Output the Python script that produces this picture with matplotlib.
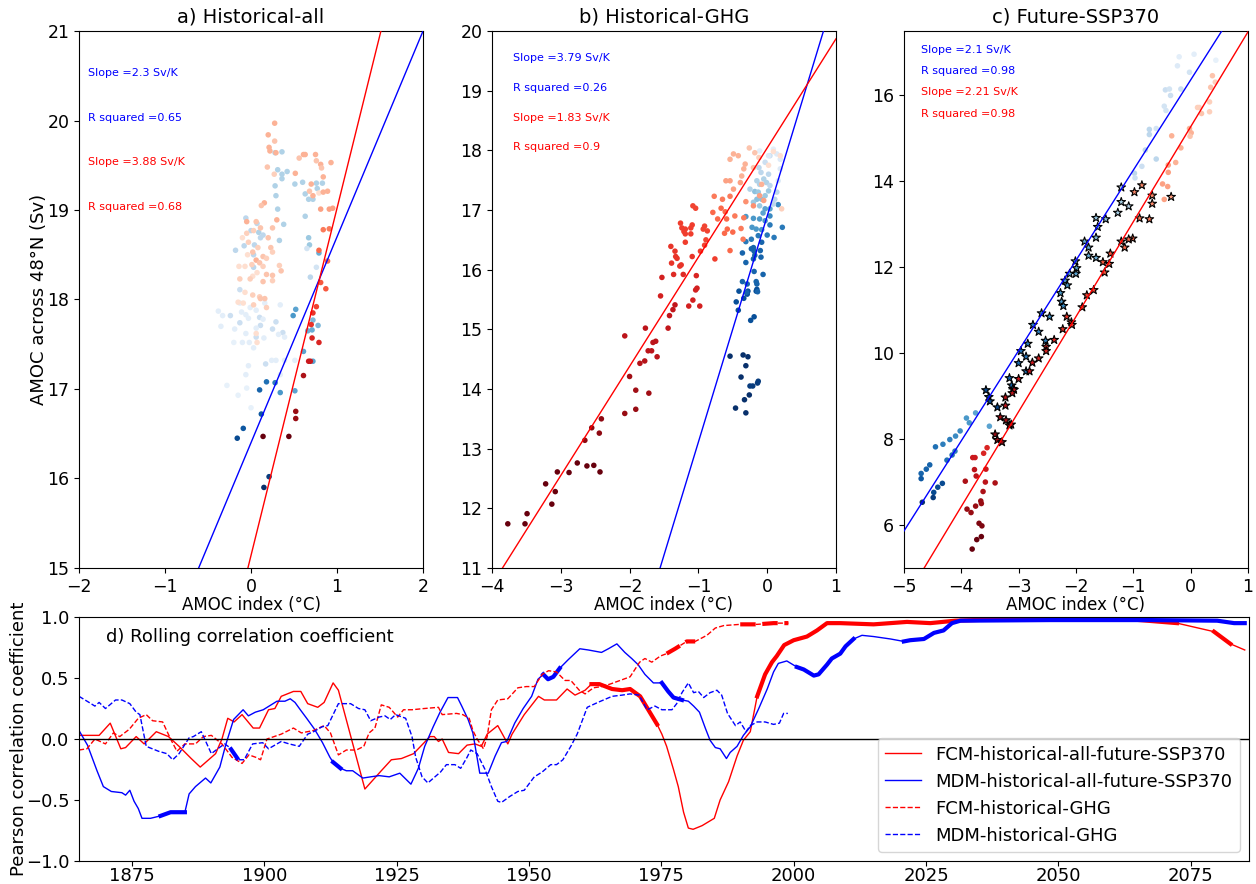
import numpy as np
import matplotlib
matplotlib.use("Agg")
import matplotlib.pyplot as plt

# ---------------- scatter data (x = AMOC index, y = AMOC 48N, shade = time) ----------------
a_mdm = [(0.28, 19.64, .32), (0.36, 19.65, .32), (0.36, 19.35, .32), (0.31, 19.45, .32), (0.36, 19.40, .32),
         (0.42, 19.43, .32), (0.28, 19.27, .32), (0.29, 19.16, .32), (0.31, 19.01, .32), (0.38, 18.84, .32),
         (0.33, 18.66, .32), (-0.06, 18.91, .28), (0.00, 18.77, .28), (0.07, 18.85, .28), (0.09, 18.75, .32),
         (0.11, 18.69, .28), (0.14, 18.72, .28), (-0.18, 18.55, .28), (-0.08, 18.60, .28), (0.03, 18.36, .28),
         (0.04, 18.61, .28), (0.03, 18.50, .28), (-0.13, 18.11, .22), (0.51, 19.29, .32), (0.60, 19.31, .32),
         (0.63, 19.18, .32), (0.67, 19.12, .32), (0.72, 19.12, .32), (0.76, 19.30, .32), (0.83, 19.30, .32),
         (0.77, 19.24, .32), (0.63, 18.93, .32), (0.67, 18.69, .38), (0.68, 18.61, .38), (0.65, 18.57, .18),
         (0.79, 18.52, .5), (0.76, 18.36, .18), (0.69, 18.25, .28),
         (-0.24, 17.82, .22), (-0.38, 17.87, .1), (-0.33, 17.82, .1), (-0.35, 17.70, .1), (-0.13, 17.74, .22),
         (-0.11, 17.86, .1), (-0.06, 17.83, .1), (-0.01, 17.91, .1), (0.06, 17.88, .1), (0.10, 17.80, .22),
         (0.11, 17.71, .22), (0.06, 17.68, .1), (0.14, 17.78, .1), (-0.03, 17.79, .1), (0.25, 17.67, .22),
         (0.29, 17.75, .22), (0.37, 17.63, .22), (0.39, 17.58, .1), (0.32, 17.61, .1), (0.15, 17.57, .1),
         (0.06, 17.58, .22), (-0.02, 17.52, .1), (0.03, 17.46, .1), (-0.06, 17.62, .1), (-0.19, 17.67, .1),
         (-0.10, 17.52, .1), (0.34, 17.16, .1), (0.39, 17.32, .1), (0.29, 17.32, .1), (0.24, 17.32, .1),
         (0.51, 17.32, .1), (0.17, 17.28, .22), (-0.03, 17.26, .1), (-0.06, 17.16, .1), (-0.20, 17.52, .08),
         (-0.28, 17.04, .08), (-0.05, 17.01, .08), (0.00, 16.79, .08), (-0.15, 16.93, .08), (0.34, 17.94, .1),
         (0.16, 17.96, .1), (-0.13, 17.96, .1),
         (0.49, 17.82, .6), (0.52, 17.89, .55), (0.66, 17.65, .5), (0.71, 17.66, .5), (0.72, 17.77, .45),
         (0.78, 17.71, .45), (0.61, 17.42, .55), (0.72, 17.31, .55), (0.51, 16.98, .55), (0.34, 16.96, .6),
         (0.28, 17.07, .7), (0.18, 17.08, .75), (0.10, 16.99, .8), (0.12, 16.72, .85), (-0.09, 16.56, .85),
         (-0.16, 16.45, .9), (0.21, 16.02, .95), (0.15, 15.90, 1.0)]

a_fcm = [(0.275, 19.97, .28), (0.20, 19.84, .28), (0.21, 19.70, .28), (0.22, 19.66, .28), (0.275, 19.77, .22),
         (0.29, 19.64, .28), (0.19, 19.48, .22), (0.27, 19.40, .18), (0.155, 19.08, .28), (0.12, 19.05, .22),
         (0.06, 18.87, .22), (-0.05, 18.87, .28), (0.30, 18.89, .28), (0.25, 18.80, .22), (0.11, 18.80, .22),
         (0.03, 18.77, .18), (-0.05, 18.74, .18), (-0.10, 18.69, .13), (-0.03, 18.64, .18), (0.20, 18.69, .22),
         (0.23, 18.58, .22), (0.25, 18.53, .18), (0.08, 18.58, .18), (0.02, 18.53, .22), (-0.04, 18.50, .13),
         (0.14, 18.48, .22), (0.18, 18.46, .18), (0.06, 18.44, .28), (0.10, 18.41, .22), (0.01, 18.39, .18),
         (0.14, 18.37, .18), (0.18, 18.28, .22), (0.25, 18.27, .22), (0.35, 18.32, .22), (0.33, 18.38, .18),
         (-0.07, 18.37, .13), (0.02, 18.26, .13), (0.14, 18.20, .22), (0.25, 18.21, .18), (-0.14, 18.37, .13),
         (-0.13, 18.23, .18), (-0.01, 18.23, .18), (0.07, 18.30, .13), (-0.07, 18.08, .13), (0.02, 18.05, .18),
         (0.10, 18.03, .18),
         (0.515, 19.41, .28), (0.56, 19.58, .22), (0.61, 19.62, .28), (0.63, 19.62, .28), (0.75, 19.62, .28),
         (0.76, 19.55, .22), (0.81, 19.51, .28), (0.82, 19.47, .22), (0.93, 19.53, .28), (0.84, 19.37, .28),
         (0.70, 19.29, .28), (0.68, 19.21, .22), (0.72, 19.16, .28), (0.79, 19.19, .13), (0.84, 19.20, .28),
         (0.89, 19.21, .28), (0.81, 19.01, .33), (0.91, 19.01, .33), (0.95, 19.02, .33), (0.84, 18.78, .45),
         (0.91, 18.79, .45), (0.79, 18.55, .5), (0.89, 18.43, .5), (0.81, 18.19, .55), (0.87, 18.12, .55),
         (0.03, 17.94, .18), (0.11, 18.01, .22), (0.16, 18.01, .22), (0.18, 17.91, .18), (0.06, 17.62, .13),
         (0.07, 17.52, .13), (-0.15, 17.97, .13), (-0.09, 17.96, .13),
         (0.76, 17.92, .6), (0.72, 17.85, .65), (0.70, 17.72, .65), (0.71, 17.57, .7), (0.79, 17.52, .7),
         (0.69, 17.31, .75), (0.67, 17.31, .75), (0.61, 17.15, .85), (0.52, 16.75, .9), (0.52, 16.67, .9),
         (0.44, 16.47, 1.0), (0.14, 16.47, 1.0)]

b_mdm = [(-0.54, 14.55, 1.0), (-0.35, 14.57, 1.0), (-0.28, 14.54, 1.0), (-0.31, 14.39, 1.0), (-0.38, 14.20, 1.0),
         (-0.25, 14.05, .95), (-0.21, 14.05, .95), (-0.14, 14.10, .95), (-0.13, 14.13, .95), (-0.26, 13.90, 1.0),
         (-0.33, 13.82, 1.0), (-0.46, 13.68, 1.0), (-0.31, 13.60, 1.0),
         (-0.45, 15.46, .88), (-0.42, 15.32, .88), (-0.34, 15.52, .88), (-0.41, 15.64, .88), (-0.29, 15.59, .88),
         (-0.28, 15.64, .88), (-0.16, 15.64, .88), (-0.15, 15.67, .88), (-0.24, 15.15, .88), (-0.19, 15.21, .88),
         (-0.36, 15.80, .8), (-0.30, 15.62, .8), (-0.29, 15.76, .8), (-0.19, 15.97, .8), (-0.16, 15.80, .8),
         (-0.15, 15.76, .8), (-0.14, 15.63, .8), (-0.06, 15.92, .8), (-0.36, 16.28, .8), (-0.31, 16.12, .8),
         (-0.23, 16.35, .8), (-0.20, 16.37, .8), (-0.19, 16.31, .8), (-0.18, 16.24, .8), (-0.20, 16.18, .8),
         (-0.10, 16.32, .8), (-0.09, 16.21, .8), (-0.08, 16.46, .8),
         (-0.31, 16.47, .72), (-0.23, 16.51, .72), (-0.13, 16.57, .72), (0.00, 16.58, .72), (0.10, 16.54, .72),
         (0.22, 16.71, .72), (0.04, 16.75, .72), (0.04, 16.90, .65), (0.16, 17.09, .65),
         (-0.20, 16.86, .6), (-0.22, 16.71, .6), (-0.11, 16.85, .6), (-0.16, 16.68, .6), (-0.08, 16.67, .6),
         (-0.03, 16.82, .6), (-0.31, 16.89, .6), (0.04, 17.02, .55), (-0.03, 17.02, .55), (-0.06, 16.95, .55),
         (-0.18, 17.31, .42), (-0.13, 17.30, .38), (-0.08, 17.18, .42), (-0.03, 17.24, .38), (0.02, 17.32, .38),
         (-0.15, 17.18, .42), (-0.20, 17.13, .38), (-0.11, 17.07, .38), (-0.11, 17.43, .32), (-0.15, 17.49, .32),
         (-0.09, 17.63, .28), (-0.05, 17.52, .32), (-0.01, 17.46, .32), (0.02, 17.60, .28), (0.04, 17.41, .28),
         (-0.12, 17.71, .28), (-0.03, 17.80, .22), (0.04, 17.91, .22), (0.11, 17.18, .28), (0.14, 17.30, .28),
         (0.09, 17.10, .28), (-0.25, 17.35, .32),
         (0.14, 17.94, .13), (0.19, 17.85, .13), (0.02, 17.91, .13), (0.09, 18.02, .1), (-0.11, 17.99, .1),
         (0.16, 17.49, .13), (0.19, 17.69, .13)]

b_fcm = [(-3.77, 11.74, 1.0), (-3.52, 11.74, 1.0), (-3.49, 11.91, 1.0), (-3.13, 12.07, 1.0), (-3.08, 12.28, 1.0),
         (-3.22, 12.41, 1.0), (-3.05, 12.61, 1.0), (-2.88, 12.60, 1.0), (-2.76, 12.76, 1.0), (-2.62, 12.71, 1.0),
         (-2.52, 12.72, 1.0), (-2.43, 12.61, 1.0),
         (-2.65, 13.14, .92), (-2.55, 13.35, .92), (-2.44, 13.26, .92), (-2.41, 13.50, .92), (-2.07, 13.59, .9),
         (-1.91, 13.66, .9), (-1.91, 13.98, .88), (-1.72, 13.93, .88), (-2.00, 14.21, .88),
         (-2.07, 14.89, .8), (-1.77, 15.02, .8), (-1.85, 14.43, .82), (-1.78, 14.47, .82), (-1.73, 14.64, .8),
         (-1.68, 14.64, .8), (-1.66, 14.78, .8), (-1.62, 14.80, .8), (-1.60, 14.54, .8), (-1.44, 15.02, .78),
         (-1.42, 15.23, .78), (-1.37, 15.33, .78), (-1.34, 15.41, .78),
         (-1.55, 15.56, .72), (-1.14, 15.39, .72), (-1.08, 15.49, .72), (-0.98, 15.39, .72), (-1.04, 15.66, .72),
         (-1.53, 15.87, .72), (-1.03, 15.90, .7), (-1.02, 15.69, .72),
         (-1.39, 16.11, .65), (-1.40, 16.39, .65), (-1.33, 16.22, .65), (-1.31, 16.19, .65), (-1.27, 16.06, .65),
         (-1.25, 16.08, .65), (-1.34, 16.31, .65), (-1.36, 15.92, .68), (-1.22, 15.92, .68), (-1.19, 16.46, .62),
         (-1.19, 16.60, .62), (-1.11, 16.60, .62), (-1.09, 16.22, .65), (-1.11, 16.70, .62), (-1.09, 16.75, .62),
         (-1.08, 17.07, .6), (-1.04, 17.03, .6), (-1.26, 16.78, .62), (-1.24, 16.70, .62), (-1.21, 16.64, .62),
         (-1.19, 16.68, .62), (-0.91, 16.73, .6), (-0.87, 16.65, .6), (-0.93, 16.68, .6), (-0.89, 16.50, .6),
         (-0.91, 16.41, .6), (-0.76, 16.18, .62), (-0.97, 16.31, .62),
         (-0.72, 16.85, .5), (-0.61, 16.97, .5), (-0.79, 16.96, .5), (-0.65, 17.18, .45), (-0.54, 17.23, .45),
         (-0.59, 16.85, .5), (-0.47, 16.90, .45), (-0.58, 16.68, .5), (-0.62, 16.61, .5), (-0.50, 16.63, .5),
         (-0.38, 16.69, .45), (-0.35, 16.51, .45), (-0.54, 16.32, .5), (-0.34, 16.87, .45), (-0.77, 17.23, .45),
         (-0.67, 17.03, .5),
         (-0.60, 17.49, .33), (-0.54, 17.49, .33), (-0.49, 17.35, .33), (-0.39, 17.46, .33), (-0.37, 17.57, .28),
         (-0.34, 17.69, .28), (-0.32, 17.77, .28), (-0.49, 17.94, .28), (-0.54, 17.85, .28), (-0.42, 17.91, .28),
         (-0.26, 18.04, .22), (-0.18, 17.96, .22), (-0.12, 17.88, .18), (-0.20, 17.71, .22), (-0.08, 17.43, .28),
         (-0.11, 17.24, .33), (-0.05, 17.16, .33), (-0.20, 17.07, .38), (-0.31, 17.14, .38), (0.21, 17.02, .18),
         (0.19, 17.91, .13), (0.02, 17.75, .13), (0.09, 17.98, .13)]

c_mdm_dots = [(-0.20, 16.90, .1), (0.06, 16.96, .1), (0.44, 16.82, .08), (-0.23, 16.69, .13), (-0.02, 16.54, .18),
              (-0.44, 16.13, .22), (-0.37, 16.15, .18), (-0.35, 16.00, .22), (-0.46, 15.75, .18), (-0.43, 15.65, .18),
              (-0.17, 16.15, .22), (-0.72, 15.21, .28), (-0.72, 15.09, .28), (-0.60, 15.23, .18), (-0.79, 14.73, .28),
              (-0.85, 14.35, .22), (-0.60, 14.52, .28), (-0.98, 14.19, .28), (-0.97, 14.08, .22),
              (-3.75, 8.61, .55), (-3.91, 8.49, .6), (-3.86, 8.38, .6), (-3.51, 8.30, .55), (-4.02, 8.19, .65),
              (-4.10, 8.07, .65), (-4.20, 7.99, .7), (-4.32, 7.88, .7), (-4.45, 7.82, .75), (-4.11, 7.72, .7),
              (-4.16, 7.63, .75), (-4.25, 7.51, .75), (-4.55, 7.40, .8), (-4.61, 7.30, .8), (-4.70, 7.20, .8),
              (-4.70, 7.08, .85), (-4.33, 6.97, .9), (-4.41, 6.88, .9), (-4.48, 6.76, .9), (-4.49, 6.64, .95),
              (-4.68, 6.53, 1.0)]

c_mdm_stars = [(-1.21, 13.86, .3), (-1.21, 13.52, .35), (-1.08, 13.42, .3), (-1.27, 13.27, .35), (-1.65, 13.15, .4),
               (-1.48, 13.12, .4), (-1.62, 12.94, .45), (-1.65, 12.69, .45), (-1.85, 12.60, .5), (-1.78, 12.46, .5),
               (-1.78, 12.27, .5), (-1.65, 12.22, .5), (-2.01, 12.14, .55), (-1.99, 11.98, .55), (-2.00, 11.85, .55),
               (-2.11, 11.85, .55), (-2.19, 11.69, .6), (-2.15, 11.58, .6), (-2.27, 11.40, .6), (-2.25, 11.20, .6),
               (-2.22, 11.10, .65), (-2.60, 10.93, .65), (-2.46, 10.85, .65), (-2.75, 10.66, .7), (-2.65, 10.50, .7),
               (-2.53, 10.29, .7), (-2.84, 10.22, .7), (-2.96, 10.05, .75), (-2.87, 9.92, .75), (-3.00, 9.77, .75),
               (-2.87, 9.58, .75), (-3.16, 9.42, .8), (-3.12, 9.25, .8), (-3.10, 9.17, .8), (-3.57, 9.14, .9),
               (-3.52, 8.98, .9), (-3.50, 8.88, .9), (-3.37, 8.74, .9)]

c_fcm_dots = [(0.38, 16.46, .22), (0.43, 16.31, .18), (0.35, 16.19, .22), (0.33, 15.85, .18), (0.12, 15.72, .18),
              (0.15, 15.72, .18), (0.19, 15.58, .22), (0.33, 15.62, .18), (-0.02, 15.23, .28), (0.01, 15.13, .28),
              (-0.01, 15.05, .22), (-0.33, 15.06, .28), (-0.17, 14.78, .28), (-0.26, 14.44, .28), (-0.39, 14.38, .33),
              (-0.39, 14.21, .33), (-0.49, 13.94, .33), (-0.40, 13.88, .33), (-0.46, 13.58, .33),
              (-3.55, 7.80, .7), (-3.61, 7.67, .7), (-3.80, 7.57, .75), (-3.76, 7.57, .75), (-3.77, 7.29, .8),
              (-3.74, 7.14, .8), (-3.57, 7.30, .75), (-3.93, 7.02, .85), (-3.58, 7.00, .8), (-3.41, 6.98, .85),
              (-3.62, 6.78, .85), (-3.66, 6.56, .9), (-3.65, 6.50, .9), (-3.90, 6.37, .9), (-3.83, 6.29, .9),
              (-3.75, 6.44, .9), (-3.69, 6.04, .95), (-3.64, 5.98, .95), (-3.65, 5.73, 1.0), (-3.73, 5.66, 1.0),
              (-3.81, 5.44, 1.0)]

c_fcm_stars = [(-0.85, 13.91, .4), (-0.98, 13.75, .4), (-0.67, 13.67, .4), (-0.67, 13.48, .4), (-0.34, 13.64, .35),
               (-0.89, 13.14, .45), (-0.72, 13.12, .45), (-1.21, 12.60, .5), (-1.15, 12.46, .5), (-1.01, 12.67, .5),
               (-1.08, 12.65, .5), (-1.40, 12.32, .55), (-1.42, 12.08, .55), (-1.53, 12.12, .55), (-1.50, 11.88, .55),
               (-1.69, 11.47, .6), (-1.81, 11.35, .6), (-1.89, 11.07, .6), (-2.16, 10.85, .65), (-2.23, 10.56, .65),
               (-2.08, 10.72, .65), (-2.07, 10.66, .65), (-2.38, 10.31, .7), (-2.52, 10.15, .7), (-2.52, 10.05, .7),
               (-2.65, 9.88, .7), (-2.76, 9.78, .75), (-2.81, 9.58, .75), (-3.00, 9.40, .75), (-3.08, 9.15, .8),
               (-3.11, 9.07, .8), (-3.23, 8.97, .8), (-3.23, 8.78, .8), (-3.32, 8.51, .85), (-3.22, 8.44, .85),
               (-3.16, 8.32, .85), (-3.13, 8.34, .85), (-3.41, 8.11, .9), (-3.37, 7.98, .9), (-3.29, 7.93, .9)]

# regression lines: (slope, intercept, r squared)
a_fit_mdm = (2.3, 16.4, 0.65)
a_fit_fcm = (3.88, 15.14, 0.68)
b_fit_mdm = (3.79, 16.90, 0.26)
b_fit_fcm = (1.83, 18.04, 0.9)
c_fit_mdm = (2.1, 16.36, 0.98)
c_fit_fcm = (2.21, 15.27, 0.98)

# ---------------- rolling correlation ----------------
fcm_all_yr = [1865.0, 1868.8, 1870.9, 1872.9, 1873.8, 1875.8, 1877.3, 1879.6, 1881.9, 1883.9, 1886.2, 1887.9,
              1890.8, 1892.0, 1893.1, 1894.3, 1895.8, 1897.9, 1899.1, 1900.8, 1902.0, 1903.2, 1905.5, 1906.9,
              1908.2, 1910.1, 1911.3, 1913.0, 1914.0, 1919.0, 1922.1, 1924.0, 1925.9, 1928.2, 1931.3, 1932.1,
              1932.9, 1933.6, 1934.8, 1936.7, 1938.3, 1939.8, 1941.0, 1942.1, 1944.1, 1946.0, 1946.8, 1949.1,
              1951.8, 1952.9, 1955.2, 1957.2, 1958.7, 1960.6, 1961.8, 1963.3, 1965.7, 1967.6, 1969.1, 1971.0,
              1974.2, 1975.1, 1976.0, 1977.3, 1978.2, 1979.2, 1980.1, 1981.0, 1982.7, 1985.0, 1986.1, 1987.7,
              1989.3, 1990.5, 1991.8, 1993.1, 1994.6, 1995.9, 1996.8, 1998.2, 2000.0, 2002.5, 2004.4, 2006.3,
              2008.8, 2015.1, 2021.4, 2025.8, 2030.5, 2044.7, 2061.1, 2072.4, 2079.4, 2082.5, 2085.2]
fcm_all_r = [0.03, 0.03, 0.13, -0.08, -0.07, 0.02, -0.04, 0.06, 0.02, -0.06, -0.16, -0.23,
             -0.12, 0.00, 0.17, 0.14, 0.20, 0.09, 0.09, 0.24, 0.25, 0.35, 0.39, 0.39,
             0.29, 0.26, 0.30, 0.46, 0.40, -0.41, -0.26, -0.17, -0.16, -0.12, 0.02, 0.02,
             -0.02, 0.00, -0.11, -0.12, -0.05, -0.04, -0.06, 0.04, 0.11, -0.04, 0.04, 0.20,
             0.35, 0.32, 0.32, 0.41, 0.36, 0.40, 0.45, 0.45, 0.41, 0.40, 0.41, 0.35,
             0.12, 0.04, -0.06, -0.25, -0.39, -0.60, -0.73, -0.74, -0.71, -0.65, -0.50, -0.35,
             -0.14, -0.01, 0.06, 0.35, 0.53, 0.63, 0.68, 0.77, 0.81, 0.84, 0.89, 0.95,
             0.95, 0.94, 0.96, 0.95, 0.97, 0.99, 0.99, 0.95, 0.88, 0.78, 0.73]
fcm_all_thick = [(1961.5, 1974.5), (1993.0, 2072.5), (2079.0, 2083.0)]

mdm_all_yr = [1865.0, 1866.6, 1868.4, 1869.6, 1871.1, 1873.1, 1873.8, 1874.6, 1875.4, 1876.2, 1876.9, 1878.5,
              1880.4, 1882.3, 1885.0, 1885.8, 1887.0, 1888.9, 1889.9, 1891.6, 1892.7, 1894.2, 1896.0, 1897.0,
              1898.3, 1899.8, 1902.4, 1903.9, 1904.9, 1905.8, 1906.8, 1908.0, 1909.5, 1911.0, 1912.4, 1913.0,
              1914.4, 1915.5, 1916.7, 1918.6, 1920.1, 1921.7, 1923.6, 1925.6, 1927.7, 1929.1, 1930.3, 1931.9,
              1933.2, 1934.7, 1936.5, 1937.3, 1938.5, 1939.4, 1940.7, 1942.3, 1943.6, 1944.8, 1945.8, 1947.3,
              1948.9, 1950.5, 1951.7, 1952.7, 1953.6, 1954.6, 1955.8, 1957.4, 1959.6, 1961.2, 1963.7, 1965.0,
              1966.6, 1968.1, 1969.4, 1970.6, 1971.9, 1973.5, 1975.1, 1976.3, 1977.3, 1978.9, 1980.1, 1981.1,
              1982.2, 1983.3, 1984.2, 1985.2, 1986.1, 1987.3, 1988.0, 1989.3, 1990.5, 1991.8, 1993.4, 1995.0,
              1996.2, 1997.1, 1998.7, 2000.6, 2001.9, 2003.8, 2004.7, 2006.3, 2007.2, 2008.8, 2009.8, 2011.3,
              2012.9, 2015.1, 2018.3, 2020.8, 2022.0, 2024.6, 2026.5, 2028.3, 2029.9, 2031.5, 2048.5, 2067.4,
              2080.0, 2083.2, 2085.2]
mdm_all_r = [0.07, -0.05, -0.26, -0.39, -0.43, -0.44, -0.46, -0.42, -0.51, -0.57, -0.65, -0.65,
             -0.63, -0.60, -0.60, -0.45, -0.39, -0.32, -0.36, -0.23, -0.05, 0.16, 0.24, 0.19,
             0.22, 0.24, 0.31, 0.31, 0.33, 0.30, 0.24, 0.17, 0.08, -0.03, -0.15, -0.19,
             -0.24, -0.26, -0.26, -0.32, -0.31, -0.30, -0.31, -0.28, -0.37, -0.24, -0.06, 0.10,
             0.22, 0.34, 0.34, 0.27, 0.16, 0.05, -0.28, -0.28, -0.14, -0.03, -0.02, 0.13,
             0.25, 0.35, 0.49, 0.53, 0.49, 0.51, 0.58, 0.65, 0.74, 0.73, 0.71, 0.74,
             0.78, 0.71, 0.66, 0.61, 0.53, 0.46, 0.46, 0.39, 0.34, 0.32, 0.31, 0.27,
             0.22, 0.09, -0.01, -0.07, -0.08, -0.16, -0.11, -0.06, 0.03, 0.10, 0.25, 0.41,
             0.55, 0.62, 0.64, 0.59, 0.57, 0.52, 0.53, 0.61, 0.66, 0.70, 0.76, 0.82,
             0.85, 0.84, 0.82, 0.80, 0.81, 0.82, 0.87, 0.89, 0.95, 0.97, 0.975, 0.975,
             0.97, 0.95, 0.95]
mdm_all_thick = [(1880.0, 1885.0), (1912.8, 1914.4), (1952.5, 1955.8), (1975.0, 1979.0), (2000.5, 2011.5),
                 (2020.5, 2086.0)]

fcm_ghg_yr = [1865.0, 1866.5, 1868.0, 1870.0, 1871.5, 1872.7, 1874.5, 1876.2, 1877.7, 1878.9, 1880.8, 1882.3,
              1883.5, 1885.0, 1887.0, 1888.5, 1890.0, 1892.0, 1893.9, 1895.8, 1897.1, 1898.4, 1899.3, 1900.5,
              1903.2, 1905.5, 1907.0, 1909.3, 1911.3, 1912.5, 1914.0, 1915.5, 1917.4, 1918.8, 1919.8, 1920.9,
              1922.1, 1923.6, 1925.2, 1926.3, 1927.9, 1930.2, 1932.9, 1933.6, 1936.3, 1937.5, 1938.7, 1939.4,
              1940.2, 1941.4, 1942.1, 1942.9, 1944.1, 1946.0, 1947.9, 1949.5, 1951.0, 1952.5, 1953.7, 1955.2,
              1956.8, 1957.9, 1959.5, 1960.6, 1962.2, 1963.7, 1965.3, 1967.2, 1969.1, 1970.9, 1971.9, 1973.2,
              1974.8, 1976.0, 1977.6, 1979.8, 1981.4, 1983.6, 1985.2, 1986.8, 1989.9, 1993.1, 1996.2, 1999.0]
fcm_ghg_r = [-0.09, -0.08, 0.00, -0.04, 0.05, 0.02, 0.08, 0.17, 0.20, 0.15, 0.14, 0.00,
             -0.10, -0.04, -0.04, 0.02, 0.03, -0.04, -0.15, -0.20, -0.13, -0.15, -0.17, 0.00,
             0.04, 0.09, 0.05, 0.07, 0.11, 0.05, -0.13, -0.09, -0.09, -0.06, 0.05, 0.09,
             0.28, 0.26, 0.18, 0.24, 0.24, 0.25, 0.26, 0.20, 0.21, 0.20, 0.17, 0.07,
             0.00, -0.08, 0.02, 0.24, 0.32, 0.33, 0.42, 0.43, 0.43, 0.53, 0.56, 0.55,
             0.48, 0.48, 0.40, 0.37, 0.42, 0.43, 0.45, 0.48, 0.51, 0.63, 0.66, 0.63,
             0.68, 0.70, 0.74, 0.80, 0.80, 0.85, 0.91, 0.93, 0.94, 0.94, 0.95, 0.95]
fcm_ghg_thick = [(1976.0, 1982.0), (1989.5, 1999.0)]

mdm_ghg_yr = [1865.0, 1866.9, 1868.0, 1868.8, 1870.0, 1871.9, 1873.1, 1874.6, 1875.8, 1876.5, 1877.7, 1880.0,
              1881.6, 1882.7, 1883.9, 1885.8, 1886.6, 1888.1, 1890.0, 1891.2, 1892.5, 1893.5, 1895.1, 1896.2,
              1897.8, 1899.7, 1900.8, 1903.2, 1904.7, 1906.6, 1908.2, 1909.3, 1910.9, 1912.0, 1914.0, 1915.1,
              1916.3, 1917.8, 1919.0, 1920.1, 1921.7, 1922.8, 1923.8, 1924.8, 1926.7, 1927.9, 1928.6, 1929.8,
              1930.9, 1931.7, 1933.3, 1934.4, 1936.0, 1937.1, 1938.3, 1939.0, 1940.2, 1941.7, 1942.9, 1944.1,
              1944.8, 1946.4, 1947.9, 1949.1, 1951.0, 1952.5, 1954.1, 1955.2, 1956.4, 1957.9, 1959.1, 1961.0,
              1963.0, 1965.7, 1967.6, 1969.1, 1970.8, 1972.3, 1973.8, 1975.1, 1977.0, 1977.9, 1978.9, 1980.1,
              1981.1, 1982.0, 1983.0, 1984.2, 1985.5, 1986.4, 1987.5, 1989.0, 1989.9, 1991.0, 1991.8, 1993.1,
              1994.6, 1996.2, 1997.3, 1998.1, 1998.9]
mdm_ghg_r = [0.35, 0.30, 0.27, 0.30, 0.25, 0.32, 0.32, 0.29, 0.22, 0.20, -0.06, -0.10,
             -0.12, -0.17, -0.12, 0.01, 0.02, 0.06, -0.12, -0.08, -0.04, -0.07, -0.17, -0.17,
             -0.04, -0.03, -0.08, -0.02, -0.04, -0.06, 0.04, 0.06, 0.10, 0.11, 0.29, 0.29,
             0.29, 0.25, 0.24, 0.15, 0.18, 0.19, 0.16, 0.20, 0.17, 0.02, -0.15, -0.31,
             -0.36, -0.33, -0.27, -0.21, -0.21, -0.24, -0.15, -0.09, -0.12, -0.25, -0.39, -0.51,
             -0.52, -0.47, -0.43, -0.42, -0.31, -0.27, -0.21, -0.21, -0.17, -0.06, 0.04, 0.26,
             0.30, 0.35, 0.36, 0.37, 0.36, 0.24, 0.27, 0.24, 0.24, 0.29, 0.38, 0.46,
             0.38, 0.39, 0.34, 0.38, 0.40, 0.36, 0.21, 0.11, 0.14, 0.06, 0.11, 0.14,
             0.14, 0.12, 0.13, 0.21, 0.21]
mdm_ghg_thick = [(1893.0, 1895.5)]

blues = plt.get_cmap('Blues')
reds = plt.get_cmap('Reds')


def dots(ax, pts, cmap, star=False):
    x, y, s = np.array(pts).T
    if star:
        ax.scatter(x, y, c=cmap(s), s=42, marker='*', edgecolors='k', linewidths=0.8, zorder=3)
    else:
        ax.scatter(x, y, c=cmap(s), s=16, marker='o', linewidths=0, zorder=2)


def fit_line(ax, fit, color, xlim):
    xx = np.array(xlim)
    ax.plot(xx, np.polyval(fit[:2], xx), color=color, lw=1, zorder=4)


def fit_text(ax, x, ys, fit_b, fit_r):
    ax.text(x, ys[0], 'Slope =' + str(fit_b[0]) + ' Sv/K', color='blue', fontsize=8)
    ax.text(x, ys[1], 'R squared =' + str(fit_b[2]), color='blue', fontsize=8)
    ax.text(x, ys[2], 'Slope =' + str(fit_r[0]) + ' Sv/K', color='red', fontsize=8)
    ax.text(x, ys[3], 'R squared =' + str(fit_r[2]), color='red', fontsize=8)


fig = plt.figure(figsize=(12.56, 8.84), dpi=100)
w, h, y0 = 0.2739, 0.6074, 0.3575
ax1 = fig.add_axes([0.0629, y0, w, h])
ax2 = fig.add_axes([0.3917, y0, w, h])
ax3 = fig.add_axes([0.7197, y0, w, h])
ax4 = fig.add_axes([0.0629, 0.026, 0.9315, 0.276])

# a)
dots(ax1, a_mdm, blues)
dots(ax1, a_fcm, reds)
fit_line(ax1, a_fit_mdm, 'blue', (-2, 2))
fit_line(ax1, a_fit_fcm, 'red', (-2, 2))
ax1.set_xlim(-2, 2)
ax1.set_ylim(15, 21)
fit_text(ax1, -1.9, [20.5, 20.0, 19.5, 19.0], a_fit_mdm, a_fit_fcm)
ax1.set_title('a) Historical-all', fontsize=14)
ax1.set_ylabel('AMOC across 48°N (Sv)', fontsize=13)
ax1.yaxis.set_label_coords(-0.09, 0.5)

# b)
dots(ax2, b_mdm, blues)
dots(ax2, b_fcm, reds)
fit_line(ax2, b_fit_mdm, 'blue', (-4, 1))
fit_line(ax2, b_fit_fcm, 'red', (-4, 1))
ax2.set_xlim(-4, 1)
ax2.set_ylim(11, 20)
fit_text(ax2, -3.7, [19.5, 19.0, 18.5, 18.0], b_fit_mdm, b_fit_fcm)
ax2.set_title('b) Historical-GHG', fontsize=14)

# c)
dots(ax3, c_mdm_dots, blues)
dots(ax3, c_fcm_dots, reds)
dots(ax3, c_mdm_stars, blues, star=True)
dots(ax3, c_fcm_stars, reds, star=True)
fit_line(ax3, c_fit_mdm, 'blue', (-5, 1))
fit_line(ax3, c_fit_fcm, 'red', (-5, 1))
ax3.set_xlim(-5, 1)
ax3.set_ylim(5, 17.5)
ax3.set_yticks([6, 8, 10, 12, 14, 16])
fit_text(ax3, -4.7, [17.0, 16.5, 16.0, 15.5], c_fit_mdm, c_fit_fcm)
ax3.set_title('c) Future-SSP370', fontsize=14)

for ax in (ax1, ax2, ax3):
    ax.set_xlabel('AMOC index (°C)', fontsize=12, labelpad=0)
    ax.tick_params(labelsize=12.5)


# d)
def corr_line(ax, yrs, r, color, ls, thick, label):
    yrs = np.array(yrs)
    r = np.array(r)
    ax.plot(yrs, r, color=color, ls=ls, lw=1, label=label)
    for lo, hi in thick:
        m = (yrs >= lo) & (yrs <= hi)
        ax.plot(yrs[m], r[m], color=color, ls=ls, lw=3)


corr_line(ax4, fcm_all_yr, fcm_all_r, 'red', '-', fcm_all_thick, 'FCM-historical-all-future-SSP370')
corr_line(ax4, mdm_all_yr, mdm_all_r, 'blue', '-', mdm_all_thick, 'MDM-historical-all-future-SSP370')
corr_line(ax4, fcm_ghg_yr, fcm_ghg_r, 'red', '--', fcm_ghg_thick, 'FCM-historical-GHG')
corr_line(ax4, mdm_ghg_yr, mdm_ghg_r, 'blue', '--', mdm_ghg_thick, 'MDM-historical-GHG')
ax4.axhline(0, color='k', lw=1)
ax4.set_xlim(1865, 2086)
ax4.set_ylim(-1, 1)
ax4.set_yticks([-1.0, -0.5, 0.0, 0.5, 1.0])
ax4.set_xticks([1875, 1900, 1925, 1950, 1975, 2000, 2025, 2050, 2075])
ax4.tick_params(labelsize=13)
ax4.tick_params(axis='x', pad=1)
ax4.set_ylabel('Pearson correlation coefficient', fontsize=13)
ax4.yaxis.set_label_coords(-0.044, 0.5)
ax4.text(0.023, 0.92, 'd) Rolling correlation coefficient', transform=ax4.transAxes, fontsize=13, va='center')
ax4.legend(loc='lower right', fontsize=13)

fig.savefig('out.png', dpi=100)
